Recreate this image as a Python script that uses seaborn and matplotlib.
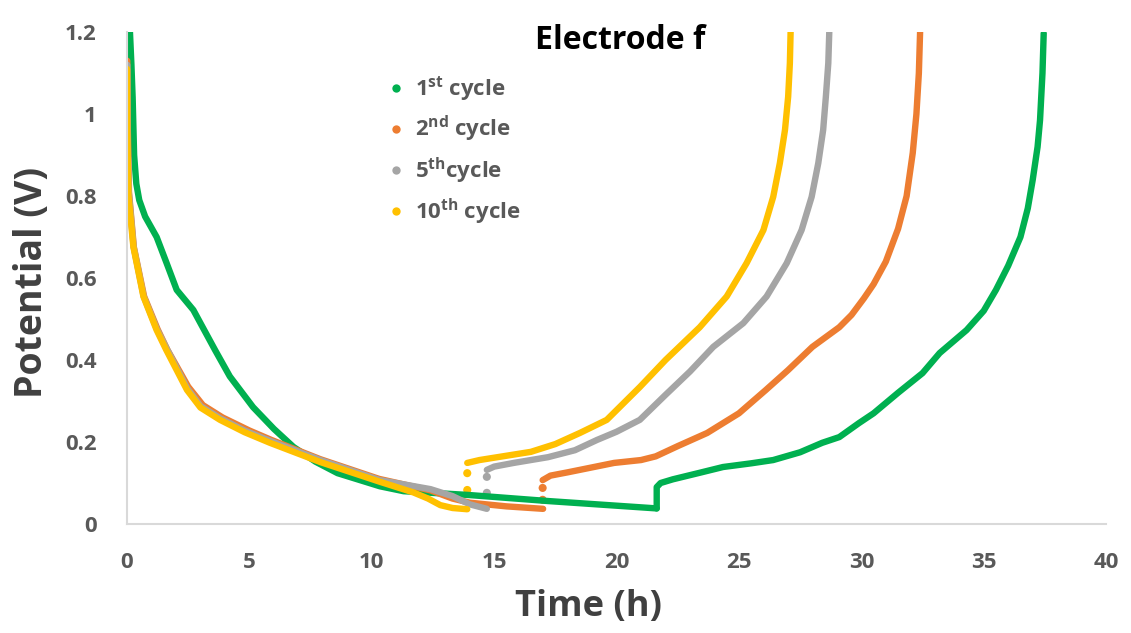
import matplotlib
matplotlib.use("Agg")
import matplotlib.pyplot as plt
from matplotlib.lines import Line2D
import pandas as pd
import seaborn as sns

# cycle names and colours (Excel default palette)
cycles = ["1st", "2nd", "5th", "10th"]
colors = ["#00B050", "#ED7D31", "#A5A5A5", "#FFC000"]
labels = [r"1$^{\mathregular{st}}$ cycle", r"2$^{\mathregular{nd}}$ cycle",
          r"5$^{\mathregular{th}}$cycle", r"10$^{\mathregular{th}}$ cycle"]

# discharge branches (time h, potential V)
t_dis_1 = [0.12, 0.18, 0.23, 0.29, 0.38, 0.5, 0.74, 1.21, 1.62, 2.03, 2.71, 3.0, 3.6, 4.2, 5.15, 6.0, 6.8, 7.7, 8.6, 10.33, 11.3, 13.9, 17.2, 21.64]
v_dis_1 = [1.2, 1.12, 1.04, 0.90, 0.83, 0.79, 0.75, 0.70, 0.636, 0.571, 0.522, 0.49, 0.424, 0.36, 0.285, 0.232, 0.188, 0.152, 0.124, 0.092, 0.08, 0.071, 0.056, 0.038]
t_dis_2 = [0.01, 0.03, 0.08, 0.28, 0.7, 1.25, 1.65, 2.5, 3.1, 3.9, 5.0, 5.9, 7.9, 10.3, 12.4, 13.3, 14.0, 15.5, 17.0]
v_dis_2 = [1.13, 0.97, 0.81, 0.675, 0.555, 0.475, 0.425, 0.335, 0.29, 0.26, 0.228, 0.205, 0.158, 0.11, 0.082, 0.062, 0.052, 0.043, 0.037]
t_dis_5 = [0.01, 0.02, 0.07, 0.27, 0.68, 1.22, 1.62, 2.45, 3.0, 3.8, 4.8, 5.84, 7.9, 10.33, 12.4, 13.3, 14.0, 14.7]
v_dis_5 = [1.12, 0.96, 0.81, 0.676, 0.555, 0.475, 0.428, 0.332, 0.288, 0.258, 0.228, 0.203, 0.156, 0.107, 0.085, 0.068, 0.048, 0.037]
t_dis_10 = [0.0, 0.01, 0.06, 0.26, 0.67, 1.21, 1.6, 2.45, 3.0, 3.8, 4.8, 5.84, 7.9, 10.33, 11.7, 12.3, 12.8, 13.3, 13.9]
v_dis_10 = [1.11, 0.96, 0.80, 0.676, 0.555, 0.473, 0.425, 0.327, 0.284, 0.254, 0.224, 0.198, 0.151, 0.103, 0.077, 0.062, 0.046, 0.039, 0.036]

# charge branches
t_chg_1 = [21.64, 21.64, 21.8, 22.3, 23.4, 24.35, 25.5, 26.4, 27.5, 28.4, 29.1, 29.9, 30.5, 31.5, 32.5, 33.2, 34.3, 35.0, 35.5, 36.0, 36.5, 36.8, 37.0, 37.2, 37.3, 37.4, 37.45]
v_chg_1 = [0.038, 0.09, 0.1, 0.109, 0.125, 0.139, 0.148, 0.156, 0.175, 0.198, 0.212, 0.246, 0.27, 0.32, 0.368, 0.417, 0.473, 0.52, 0.571, 0.63, 0.70, 0.77, 0.839, 0.92, 0.985, 1.1, 1.197]
t_chg_2 = [16.98, 17.3, 18.0, 19.9, 21.0, 21.6, 22.5, 23.7, 25.0, 26.1, 27.0, 28.0, 29.1, 29.6, 30.1, 30.5, 31.0, 31.5, 31.85, 32.1, 32.25, 32.35, 32.4]
v_chg_2 = [0.107, 0.118, 0.126, 0.149, 0.156, 0.165, 0.19, 0.222, 0.27, 0.327, 0.375, 0.432, 0.48, 0.51, 0.55, 0.585, 0.64, 0.72, 0.80, 0.905, 1.0, 1.1, 1.2]
t_chg_5 = [14.7, 15.0, 15.8, 17.2, 18.3, 19.2, 20.0, 20.95, 22.0, 23.0, 23.95, 25.18, 26.13, 26.95, 27.56, 27.97, 28.24, 28.44, 28.55, 28.65, 28.69]
v_chg_5 = [0.132, 0.14, 0.149, 0.163, 0.18, 0.205, 0.225, 0.254, 0.315, 0.372, 0.432, 0.49, 0.555, 0.636, 0.717, 0.798, 0.88, 0.961, 1.042, 1.124, 1.2]
t_chg_10 = [13.9, 14.4, 16.5, 17.5, 18.5, 19.6, 20.95, 22.0, 23.4, 24.5, 25.31, 26.0, 26.4, 26.67, 26.88, 27.01, 27.08, 27.11]
v_chg_10 = [0.149, 0.156, 0.176, 0.195, 0.222, 0.254, 0.334, 0.4, 0.48, 0.555, 0.636, 0.717, 0.798, 0.88, 0.961, 1.042, 1.124, 1.2]

# isolated points at the start of charge
t_jump = [16.98, 16.98, 14.7, 14.7, 13.9, 13.9]
v_jump = [0.059, 0.088, 0.076, 0.115, 0.083, 0.124]
c_jump = ["2nd", "2nd", "5th", "5th", "10th", "10th"]

branches = [
    ("1st", "dis", t_dis_1, v_dis_1), ("1st", "chg", t_chg_1, v_chg_1),
    ("2nd", "dis", t_dis_2, v_dis_2), ("2nd", "chg", t_chg_2, v_chg_2),
    ("5th", "dis", t_dis_5, v_dis_5), ("5th", "chg", t_chg_5, v_chg_5),
    ("10th", "dis", t_dis_10, v_dis_10), ("10th", "chg", t_chg_10, v_chg_10),
]
rows = []
for cyc, seg, ts, vs in branches:
    for t, v in zip(ts, vs):
        rows.append({"Time": t, "Potential": v, "Cycle": cyc, "Segment": cyc + seg})
df = pd.DataFrame(rows)
df_jump = pd.DataFrame({"Time": t_jump, "Potential": v_jump, "Cycle": c_jump})

sns.set_theme(style="white")
plt.rcParams["font.family"] = ["Open Sans", "DejaVu Sans"]
plt.rcParams["mathtext.default"] = "regular"

fig = plt.figure(figsize=(11.31, 6.33), dpi=100)
ax = fig.add_axes([0.1123, 0.1722, 0.8657, 0.7772])

palette = dict(zip(cycles, colors))
sns.lineplot(data=df, x="Time", y="Potential", hue="Cycle", units="Segment",
             estimator=None, sort=False, palette=palette, hue_order=cycles,
             linewidth=4.6, legend=False, ax=ax, solid_capstyle="round",
             solid_joinstyle="round")
sns.scatterplot(data=df_jump, x="Time", y="Potential", hue="Cycle", palette=palette,
                s=34, edgecolor="none", legend=False, ax=ax)

ax.set_xlim(0, 40)
ax.set_ylim(0, 1.2)
ax.set_xticks(range(0, 41, 5))
ax.set_yticks([0, 0.2, 0.4, 0.6, 0.8, 1.0, 1.2])
ax.set_yticklabels(["0", "0.2", "0.4", "0.6", "0.8", "1", "1.2"])
ax.tick_params(axis="both", length=0, labelsize=16, labelcolor="#595959")
ax.tick_params(axis="x", pad=20)
ax.tick_params(axis="y", pad=22)
for lab in ax.get_xticklabels() + ax.get_yticklabels():
    lab.set_fontweight("bold")
for s in ["top", "right"]:
    ax.spines[s].set_visible(False)
for s in ["left", "bottom"]:
    ax.spines[s].set_color("#d9d9d9")
    ax.spines[s].set_linewidth(1.5)

ax.set_xlabel("Time (h)", fontsize=26, fontweight="bold", color="#404040")
ax.set_ylabel("Potential (V)", fontsize=27, fontweight="bold", color="#404040")
ax.xaxis.set_label_coords(0.471, -0.133)
ax.yaxis.set_label_coords(-0.078, 0.49)
ax.text(0.504, 0.982, "Electrode f", transform=ax.transAxes, ha="center", va="center",
        fontsize=23, fontweight="bold", color="black")

handles = [Line2D([], [], marker="o", linestyle="none", markersize=6,
                  markerfacecolor=c, markeredgecolor="none") for c in colors]
leg = ax.legend(handles, labels, loc="upper left", bbox_to_anchor=(0.243, 0.955),
                frameon=False, handlelength=1.0, handletextpad=0.35,
                labelspacing=0.5, fontsize=16)
for t in leg.get_texts():
    t.set_color("#595959")
    t.set_fontweight("bold")

fig.savefig("out.png", dpi=100)
